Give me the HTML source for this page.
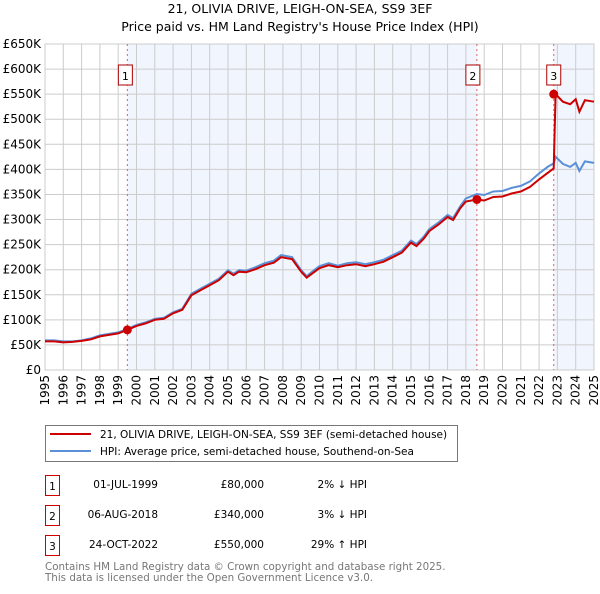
<!DOCTYPE html>
<html><head><meta charset="utf-8"><style>
body{margin:0;background:#fff;font-family:"DejaVu Sans","Liberation Sans",sans-serif;}
svg text{font-family:"DejaVu Sans","Liberation Sans",sans-serif;}
</style></head><body>
<svg id="chart" width="600" height="590" xmlns="http://www.w3.org/2000/svg">
<text x="300" y="13" text-anchor="middle" font-size="12.5">21, OLIVIA DRIVE, LEIGH-ON-SEA, SS9 3EF</text>
<text x="300" y="31" text-anchor="middle" font-size="12.5">Price paid vs. HM Land Registry's House Price Index (HPI)</text>
<g id="plot"></g>
<g>
<rect x="45.5" y="425.5" width="412" height="36" fill="#fff" stroke="#777"/>
<line x1="50" y1="434" x2="91" y2="434" stroke="#cc0000" stroke-width="2"/>
<text x="100" y="438" font-size="10.5">21, OLIVIA DRIVE, LEIGH-ON-SEA, SS9 3EF (semi-detached house)</text>
<line x1="50" y1="451" x2="91" y2="451" stroke="#5b8fd6" stroke-width="2"/>
<text x="100" y="455" font-size="10.5">HPI: Average price, semi-detached house, Southend-on-Sea</text>
</g>
<g font-size="10.5">
<rect x="45.5" y="475.5" width="14" height="20" fill="none" stroke="#cc0000"/>
<text x="52.5" y="490" text-anchor="middle">1</text>
<text x="158" y="488" text-anchor="end">01-JUL-1999</text>
<text x="264" y="488" text-anchor="end">£80,000</text>
<text x="367" y="488" text-anchor="end">2% ↓ HPI</text>
<rect x="45.5" y="505.5" width="14" height="20" fill="none" stroke="#cc0000"/>
<text x="52.5" y="520" text-anchor="middle">2</text>
<text x="158" y="518" text-anchor="end">06-AUG-2018</text>
<text x="264" y="518" text-anchor="end">£340,000</text>
<text x="367" y="518" text-anchor="end">3% ↓ HPI</text>
<rect x="45.5" y="535.5" width="14" height="20" fill="none" stroke="#cc0000"/>
<text x="52.5" y="550" text-anchor="middle">3</text>
<text x="158" y="548" text-anchor="end">24-OCT-2022</text>
<text x="264" y="548" text-anchor="end">£550,000</text>
<text x="367" y="548" text-anchor="end">29% ↑ HPI</text>
</g>
<text x="45" y="570" font-size="10.3" fill="#777">Contains HM Land Registry data © Crown copyright and database right 2025.</text>
<text x="45" y="581" font-size="10.3" fill="#777">This data is licensed under the Open Government Licence v3.0.</text>
</svg>
<script>
const years=[1995,1995.5,1996,1996.5,1997,1997.5,1998,1998.5,1999,1999.5,2000,2000.5,2001,2001.5,2002,2002.5,2003,2003.5,2004,2004.5,2005,2005.3,2005.6,2006,2006.5,2007,2007.5,2007.9,2008.5,2009,2009.3,2009.7,2010,2010.5,2011,2011.5,2012,2012.5,2013,2013.5,2014,2014.5,2015,2015.3,2015.7,2016,2016.5,2017,2017.3,2017.7,2018,2018.6,2019,2019.5,2020,2020.5,2021,2021.5,2022,2022.5,2022.8,2022.9,2023.3,2023.7,2024,2024.2,2024.5,2025];
const hpiValues=[59,59,57,57,59,63,69,72,75,82,90,95,102,104,115,122,152,162,172,182,199,192,199,198,205,213,218,229,225,199,187,199,207,213,208,213,215,211,215,220,229,238,258,251,266,281,294,309,303,327,342,351,349,356,357,363,367,376,392,406,412,425,411,405,413,397,416,413];
const priceValues=[57,57,55,56,58,61,67,70,73,80,88,93,100,102,113,120,149,159,169,179,196,189,196,195,201,209,214,225,221,196,184,195,203,209,205,209,211,207,211,216,225,234,254,247,262,277,290,305,299,323,336,340,338,345,346,352,356,365,380,394,402,550,535,530,540,515,538,535];
const saleYears=[1999.5,2018.6,2022.8];
const salePrices=[80,340,550];
const xTicks=[1995,1996,1997,1998,1999,2000,2001,2002,2003,2004,2005,2006,2007,2008,2009,2010,2011,2012,2013,2014,2015,2016,2017,2018,2019,2020,2021,2022,2023,2024,2025];
const yTicks=[0,50,100,150,200,250,300,350,400,450,500,550,600,650];
const yTickLabels=["£0","£50K","£100K","£150K","£200K","£250K","£300K","£350K","£400K","£450K","£500K","£550K","£600K","£650K"];

const X0=45,X1=594,Y0=370,Y1=44;
const xs=v=>X0+(v-1995)/30*(X1-X0);
const ys=v=>Y0-v/650*(Y0-Y1);
const NS="http://www.w3.org/2000/svg";
const g=document.getElementById('plot');
function mk(tag,attrs){const e=document.createElementNS(NS,tag);for(const k in attrs)e.setAttribute(k,attrs[k]);g.appendChild(e);return e;}

const bg=mk('rect',{x:X0,y:Y1,width:X1-X0,height:Y0-Y1,fill:'#fff'});


const shades=[[saleYears[0],saleYears[1]],[saleYears[2],2025]];
shades.forEach((s,i)=>{const r=mk('rect',{x:xs(s[0]),y:Y1,width:xs(s[1])-xs(s[0]),height:Y0-Y1,fill:'#eef3fc',opacity:0.8});

});

yTicks.forEach((t,i)=>{const l=mk('line',{x1:X0,x2:X1,y1:ys(t),y2:ys(t),stroke:'#ccc','stroke-width':1});


const tx=mk('text',{x:X0-4,y:ys(t)+4,'text-anchor':'end','font-size':12});tx.textContent=yTickLabels[i];

});
xTicks.forEach(t=>{const l=mk('line',{x1:xs(t),x2:xs(t),y1:Y1,y2:Y0,stroke:'#ccc','stroke-width':1});


const tx=mk('text',{x:0,y:0,'font-size':12,'text-anchor':'end',transform:`translate(${xs(t)+4},${Y0+5}) rotate(-90)`});tx.textContent=t;

});
const border=mk('rect',{x:X0,y:Y1,width:X1-X0,height:Y0-Y1,fill:'none',stroke:'#ccc'});



saleYears.forEach((s,i)=>{const l=mk('line',{x1:xs(s),x2:xs(s),y1:Y1,y2:Y0,stroke:'#e06060','stroke-dasharray':'2,3','stroke-width':1});


const r=mk('rect',{x:xs(s)-8,y:65,width:14,height:20,fill:'#fff',stroke:'#aa0000'});
r.setAttribute('x',xs(s)-(i==0?9:(i==1?11:7)));


const t=mk('text',{x:+r.getAttribute('x')+7,y:80,'text-anchor':'middle','font-size':11});t.textContent=String(i+1);

});

const pts=a=>years.map((y,i)=>xs(y).toFixed(1)+','+ys(a[i]).toFixed(1)).join(' ');
const hl=mk('polyline',{points:pts(hpiValues),fill:'none',stroke:'#5b8fd6','stroke-width':2});


const pl=mk('polyline',{points:pts(priceValues),fill:'none',stroke:'#cc0000','stroke-width':2});


saleYears.forEach((s,i)=>{const c=mk('circle',{cx:xs(s),cy:ys(salePrices[i]),r:4.5,fill:'#cc0000'});

});
</script>
</body></html>
